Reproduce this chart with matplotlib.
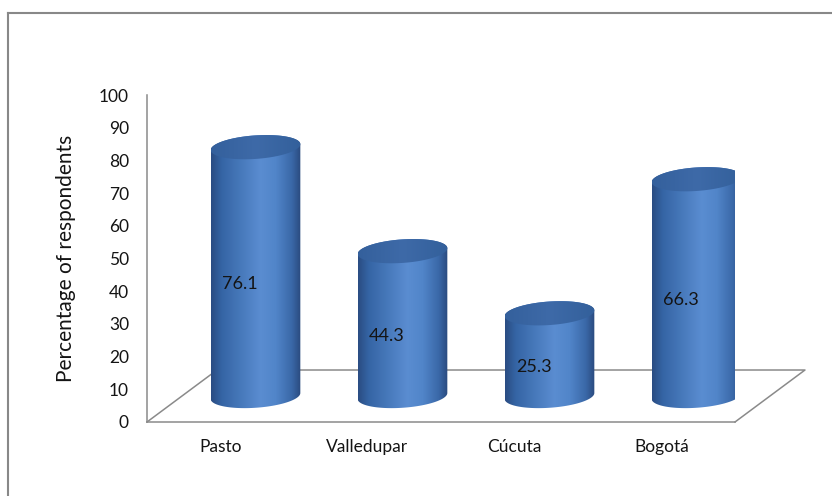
import matplotlib
matplotlib.use("Agg")
import matplotlib.pyplot as plt
import numpy as np
from matplotlib.colors import LinearSegmentedColormap
from matplotlib.patches import Polygon
from matplotlib.lines import Line2D

plt.rcParams['font.family'] = ['Lato', 'DejaVu Sans']

# data
cities = ["Pasto", "Valledupar", "Cúcuta", "Bogotá"]
percent = [76.1, 44.3, 25.3, 66.3]
yticks = list(range(0, 101, 10))

# fake 3d floor / cylinder geometry (data units)
depth_dx = 0.476
depth_dy = 15.9
rad = 0.305
ell_b = 3.6
shear = 0.9

body_cmap = LinearSegmentedColormap.from_list("body", [
    (0.0, "#2a4c82"), (0.12, "#3565a5"), (0.55, "#5a8dd1"),
    (0.72, "#5185c9"), (0.9, "#3a68a8"), (1.0, "#2a4a7e")])
top_cmap = LinearSegmentedColormap.from_list("top", [
    (0.0, "#34609c"), (0.5, "#3e6aa8"), (1.0, "#33609b")])

fig = plt.figure(figsize=(8.32, 4.96), dpi=100)
ax = fig.add_axes([147/832, 74/496, 588/832, 327/496])

# floor edges (front edge is the bottom spine)
gray = "#8a8a8a"
ax.plot([-0.5, -0.5 + depth_dx, 3.5 + depth_dx, 3.5],
        [0, depth_dy, depth_dy, 0], color=gray, lw=1.1, clip_on=False, zorder=1)


def ellipse_pts(cx, cy, t):
    return np.column_stack([cx + rad*np.cos(t), cy + ell_b*np.sin(t) + shear*np.cos(t)])


for i, v in enumerate(percent):
    cx = i + depth_dx/2
    y0 = depth_dy/2
    y1 = y0 + v
    bot = ellipse_pts(cx, y0, np.linspace(np.pi, 2*np.pi, 60))
    top_half = ellipse_pts(cx, y1, np.linspace(0, np.pi, 60))
    body = Polygon(np.vstack([bot, top_half]), closed=True, facecolor="none",
                   edgecolor="none", zorder=3)
    ax.add_patch(body)
    grad = np.linspace(0, 1, 256).reshape(1, -1)
    im = ax.imshow(grad, cmap=body_cmap, aspect="auto", zorder=3,
                   extent=[cx - rad, cx + rad, y0 - ell_b - 2, y1 + ell_b + 2])
    im.set_clip_path(body)
    cap = Polygon(ellipse_pts(cx, y1, np.linspace(0, 2*np.pi, 120)), closed=True,
                  facecolor="none", edgecolor="none", zorder=4)
    ax.add_patch(cap)
    im2 = ax.imshow(grad, cmap=top_cmap, aspect="auto", zorder=4,
                    extent=[cx - rad, cx + rad, y1 - ell_b - 2, y1 + ell_b + 2])
    im2.set_clip_path(cap)
    ax.text(i + 0.13, y0 + v/2 - 3.7, f"{v:.1f}", ha="center", va="center",
            fontsize=13, color="#141414", zorder=5)

ax.set_xlim(-0.5, 3.5)
ax.set_ylim(0, 100)
ax.set_yticks(yticks)
ax.set_xticks(range(len(cities)))
ax.set_xticklabels(cities)
ax.tick_params(axis="y", length=0, pad=13, labelsize=12.5, labelcolor="#141414")
ax.tick_params(axis="x", length=0, pad=12, labelsize=12.5, labelcolor="#141414")
for s in ["top", "right"]:
    ax.spines[s].set_visible(False)
for s in ["left", "bottom"]:
    ax.spines[s].set_color(gray)
    ax.spines[s].set_linewidth(1.1)
ax.patch.set_visible(False)
ax.set_ylabel("Percentage of respondents", fontsize=15, color="#141414")
ax.yaxis.set_label_coords(-0.12, 0.5)

# chart area border
fig.add_artist(Line2D([8/832, 8/832], [-0.05, 1 - 13/496], color="#888888", lw=1.5))
fig.add_artist(Line2D([8/832, 1.05], [1 - 13/496, 1 - 13/496], color="#888888", lw=1.5))

fig.savefig("out.png", dpi=100)
